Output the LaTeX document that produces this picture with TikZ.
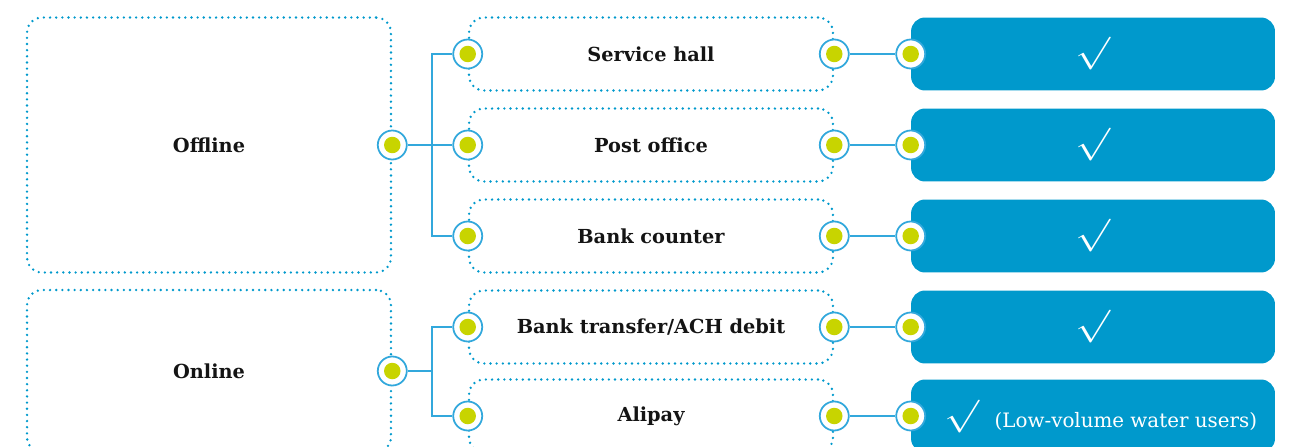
\documentclass[tikz,border=0pt]{standalone}
\usepackage{fontspec}
\setmainfont{DejaVu Serif}
\usetikzlibrary{positioning,calc}

\definecolor{paycyan}{RGB}{0,153,204}
\definecolor{paywire}{RGB}{50,168,220}
\definecolor{paygreen}{RGB}{200,212,0}
\definecolor{paytext}{RGB}{20,20,20}

\newcommand{\paytick}{{\fontsize{20}{24}\selectfont\scalebox{1.15}[0.9]{$\surd$}}}

\tikzset{
  groupbox/.style={draw=paycyan, line width=1.5pt, dash pattern=on 0pt off 3.5pt, line cap=round,
    rounded corners=0.3cm, minimum width=7.28cm, text=paytext,
    font=\fontsize{11}{13}\selectfont\bfseries},
  chanbox/.style={groupbox, minimum height=1.46cm},
  okbox/.style={fill=paycyan, rounded corners=0.28cm, minimum width=7.28cm,
    minimum height=1.46cm, text=white, inner sep=0pt},
  port/.style={circle, draw=paywire, line width=1pt, fill=white, minimum size=0.58cm,
    inner sep=0pt, path picture={\fill[paygreen] (path picture bounding box.center) circle (0.165cm);}},
  wire/.style={paywire, line width=1pt}
}

\begin{document}
\begin{tikzpicture}[x=0.02cm, y=-0.02cm]
  \useasboundingbox (0,0) rectangle (1290,446);

  % Payment groups
  \node[groupbox, minimum height=5.1cm] (offline) at (209,145) {Offline};
  \node[groupbox, minimum height=3.24cm] (online) at (209,371) {Online};

  % Channels
  \node[chanbox] (hall) at (651,54) {Service hall};
  \node[chanbox] (post) at (651,145) {Post office};
  \node[chanbox] (counter) at (651,236) {Bank counter};
  \node[chanbox] (ach) at (651,327) {Bank transfer/ACH debit};
  \node[chanbox] (alipay) at (651,416) {Alipay};

  % Availability
  \node[okbox] (hall-ok) at (1093,54) {\paytick};
  \node[okbox] (post-ok) at (1093,145) {\paytick};
  \node[okbox] (counter-ok) at (1093,236) {\paytick};
  \node[okbox] (ach-ok) at (1093,327) {\paytick};
  \node[okbox, text height=16.6pt, text depth=3pt] (alipay-ok) at (1093,416)
    {\hspace*{0.3cm}\raisebox{2pt}{\paytick}\hspace{9pt}{\fontsize{11.3}{13}\selectfont(Low-volume water users)}};

  % Ports
  \node[port] (offline-out) at (offline.east) {};
  \node[port] (online-out) at (online.east) {};
  \foreach \ch in {hall,post,counter,ach,alipay} {
    \node[port] (\ch-in) at (\ch.west) {};
    \node[port] (\ch-out) at (\ch.east) {};
    \node[port] (\ch-ok-in) at (\ch-ok.west) {};
    \draw[wire] (\ch-out) -- (\ch-ok-in);
  }

  % Forks
  \coordinate (offline-fork) at (432,145);
  \coordinate (online-fork) at (432,371);
  \draw[wire] (offline-out) -- (offline-fork);
  \draw[wire] (offline-fork) |- (hall-in);
  \draw[wire] (offline-fork) |- (post-in);
  \draw[wire] (offline-fork) |- (counter-in);
  \draw[wire] (online-out) -- (online-fork);
  \draw[wire] (online-fork) |- (ach-in);
  \draw[wire] (online-fork) |- (alipay-in);
\end{tikzpicture}
\end{document}
